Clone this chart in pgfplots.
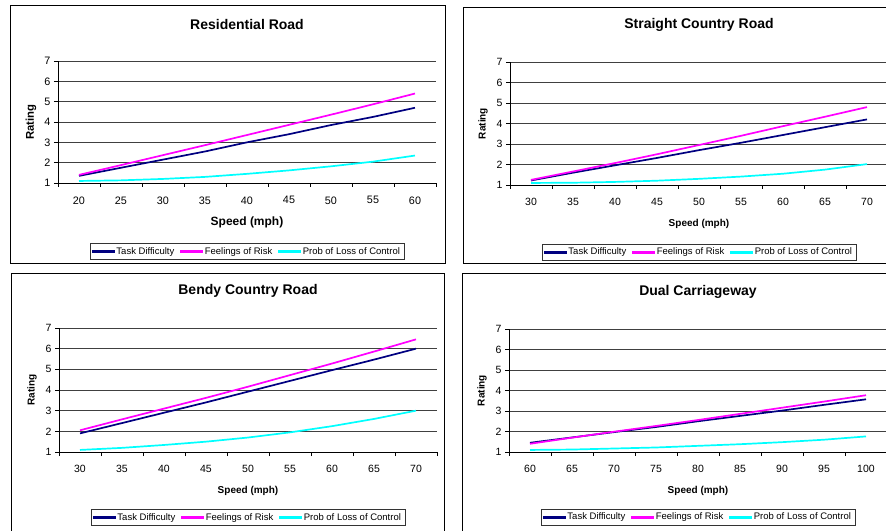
\documentclass[border=0pt]{standalone}
\usepackage{pgfplots}
\pgfplotsset{compat=1.18}
\usepackage{fontspec}
\setmainfont{Liberation Sans}
\definecolor{navyc}{RGB}{0,0,128}
\definecolor{magc}{RGB}{255,0,255}
\definecolor{cyanc}{RGB}{0,255,255}
\pgfplotsset{
  tdstyle/.style={color=navyc, line width=1.7pt},
  frstyle/.style={color=magc, line width=1.7pt},
  plstyle/.style={color=cyanc, line width=1.7pt},
  lgTD/.style={legend image code/.code={\fill[navyc] (0pt,-0.85pt) rectangle (22pt,0.85pt);}},
  lgFR/.style={legend image code/.code={\fill[magc] (0pt,-0.85pt) rectangle (22pt,0.85pt);}},
  lgPL/.style={legend image code/.code={\fill[cyanc] (0pt,-0.85pt) rectangle (22pt,0.85pt);}},
}
\pgfplotsset{
  panel/.style={
    scale only axis, width=378pt,
    axis lines*=left,
    axis line style={black, line width=0.8pt},
    ymin=1, ymax=7, ytick={1,...,7},
    ymajorgrids, grid style={black!75, line width=0.8pt},
    tick align=outside, major tick length=4pt,
    tick style={black, line width=0.8pt},
    xticklabels={},
    extra x tick style={major tick length=0pt, grid=none, xticklabel style={yshift=-10pt}},
    /pgf/number format/assume math mode=true,
    title style={at={(0.5,1)}, anchor=center, yshift=31pt, font=\fontsize{14}{16}\selectfont\bfseries},
    xlabel style={at={(axis description cs:0.5,0)}, anchor=center, yshift=-39pt},
    ylabel style={at={(axis description cs:0,0.5)}, anchor=center, yshift=27pt},
    legend columns=3,
    legend style={at={(0.5,#1)}, anchor=center, draw=black!80,
      font=\fontsize{9.5}{11}\selectfont, inner sep=2pt,
      /tikz/every even column/.append style={column sep=4pt}},
  },
  small/.style={
    tick label style={font=\fontsize{10.5}{12}\selectfont},
    xlabel style={font=\fontsize{10}{12}\selectfont\bfseries},
    ylabel style={font=\fontsize{10}{12}\selectfont\bfseries},
  },
}
\begin{document}
\begin{tikzpicture}[x=1pt,y=1pt]
\useasboundingbox (0,0) rectangle (886,530);
\draw[black, line width=0.9pt] (10,525) rectangle (445,267);
\draw[black, line width=0.9pt] (463,523) rectangle (895,267);
\draw[black, line width=0.9pt] (11,257) rectangle (444,-5);
\draw[black, line width=0.9pt] (462,257) rectangle (895,-5);

% Residential Road
\begin{axis}[panel=-0.56, at={(58pt,347pt)}, anchor=south west, height=122pt,
  xmin=17.5, xmax=62.5, xtick={17.5,22.5,...,62.5},
  extra x ticks={20,25,30,35,40,45,50,55,60},
  extra x tick labels={20,25,30,35,40,45,50,55,60},
  title={Residential Road},
  xlabel={Speed (mph)}, ylabel={Rating},
  tick label style={font=\fontsize{10.8}{12}\selectfont},
  xlabel style={font=\fontsize{12}{14}\selectfont\bfseries},
  ylabel style={font=\fontsize{11.3}{13}\selectfont\bfseries}]
\addlegendimage{lgTD}
\addlegendentry{Task Difficulty}
\addlegendimage{lgFR}
\addlegendentry{Feelings of Risk}
\addlegendimage{lgPL}
\addlegendentry{Prob of Loss of Control}
\addplot[tdstyle, forget plot] coordinates {(20,1.35)(25,1.75)(30,2.15)(35,2.55)(40,3.0)(45,3.4)(50,3.85)(55,4.25)(60,4.7)};
\addplot[frstyle, forget plot] coordinates {(20,1.4)(25,1.88)(30,2.37)(35,2.86)(40,3.36)(45,3.86)(50,4.36)(55,4.87)(60,5.4)};
\addplot[plstyle, forget plot] coordinates {(20,1.1)(25,1.13)(30,1.2)(35,1.3)(40,1.45)(45,1.62)(50,1.82)(55,2.05)(60,2.35)};
\end{axis}

% Straight Country Road
\begin{axis}[panel=-0.545, small, at={(510pt,345pt)}, anchor=south west, height=123pt,
  xmin=27.5, xmax=72.5, xtick={27.5,32.5,...,72.5},
  extra x ticks={30,35,40,45,50,55,60,65,70},
  extra x tick labels={30,35,40,45,50,55,60,65,70},
  title={Straight Country Road},
  xlabel={Speed (mph)}, ylabel={Rating}]
\addlegendimage{lgTD}
\addlegendentry{Task Difficulty}
\addlegendimage{lgFR}
\addlegendentry{Feelings of Risk}
\addlegendimage{lgPL}
\addlegendentry{Prob of Loss of Control}
\addplot[tdstyle, forget plot] coordinates {(30,1.22)(35,1.6)(40,1.96)(45,2.32)(50,2.7)(55,3.06)(60,3.44)(65,3.82)(70,4.2)};
\addplot[frstyle, forget plot] coordinates {(30,1.25)(35,1.66)(40,2.07)(45,2.5)(50,2.95)(55,3.4)(60,3.87)(65,4.33)(70,4.8)};
\addplot[plstyle, forget plot] coordinates {(30,1.1)(35,1.11)(40,1.15)(45,1.21)(50,1.3)(55,1.41)(60,1.55)(65,1.75)(70,2.02)};
\end{axis}

% Bendy Country Road
\begin{axis}[panel=-0.528, small, at={(59pt,78pt)}, anchor=south west, height=124pt,
  xmin=27.5, xmax=72.5, xtick={27.5,32.5,...,72.5},
  extra x ticks={30,35,40,45,50,55,60,65,70},
  extra x tick labels={30,35,40,45,50,55,60,65,70},
  title={Bendy Country Road},
  xlabel={Speed (mph)}, ylabel={Rating}]
\addlegendimage{lgTD}
\addlegendentry{Task Difficulty}
\addlegendimage{lgFR}
\addlegendentry{Feelings of Risk}
\addlegendimage{lgPL}
\addlegendentry{Prob of Loss of Control}
\addplot[tdstyle, forget plot] coordinates {(30,1.9)(35,2.4)(40,2.9)(45,3.4)(50,3.92)(55,4.44)(60,4.96)(65,5.47)(70,6.0)};
\addplot[frstyle, forget plot] coordinates {(30,2.05)(35,2.58)(40,3.1)(45,3.62)(50,4.16)(55,4.72)(60,5.28)(65,5.86)(70,6.45)};
\addplot[plstyle, forget plot] coordinates {(30,1.1)(35,1.2)(40,1.34)(45,1.5)(50,1.7)(55,1.95)(60,2.25)(65,2.6)(70,3.0)};
\end{axis}

% Dual Carriageway
\begin{axis}[panel=-0.528, small, at={(509pt,78pt)}, anchor=south west, height=123pt,
  xmin=57.5, xmax=102.5, xtick={57.5,62.5,...,102.5},
  extra x ticks={60,65,70,75,80,85,90,95,100},
  extra x tick labels={60,65,70,75,80,85,90,95,100},
  title={Dual Carriageway},
  xlabel={Speed (mph)}, ylabel={Rating}]
\addlegendimage{lgTD}
\addlegendentry{Task Difficulty}
\addlegendimage{lgFR}
\addlegendentry{Feelings of Risk}
\addlegendimage{lgPL}
\addlegendentry{Prob of Loss of Control}
\addplot[tdstyle, forget plot] coordinates {(60,1.45)(65,1.71)(70,1.97)(75,2.22)(80,2.5)(85,2.76)(90,3.02)(95,3.3)(100,3.57)};
\addplot[frstyle, forget plot] coordinates {(60,1.4)(65,1.7)(70,1.99)(75,2.27)(80,2.56)(85,2.86)(90,3.16)(95,3.46)(100,3.77)};
\addplot[plstyle, forget plot] coordinates {(60,1.1)(65,1.12)(70,1.17)(75,1.22)(80,1.3)(85,1.38)(90,1.48)(95,1.6)(100,1.76)};
\end{axis}
\end{tikzpicture}
\end{document}
